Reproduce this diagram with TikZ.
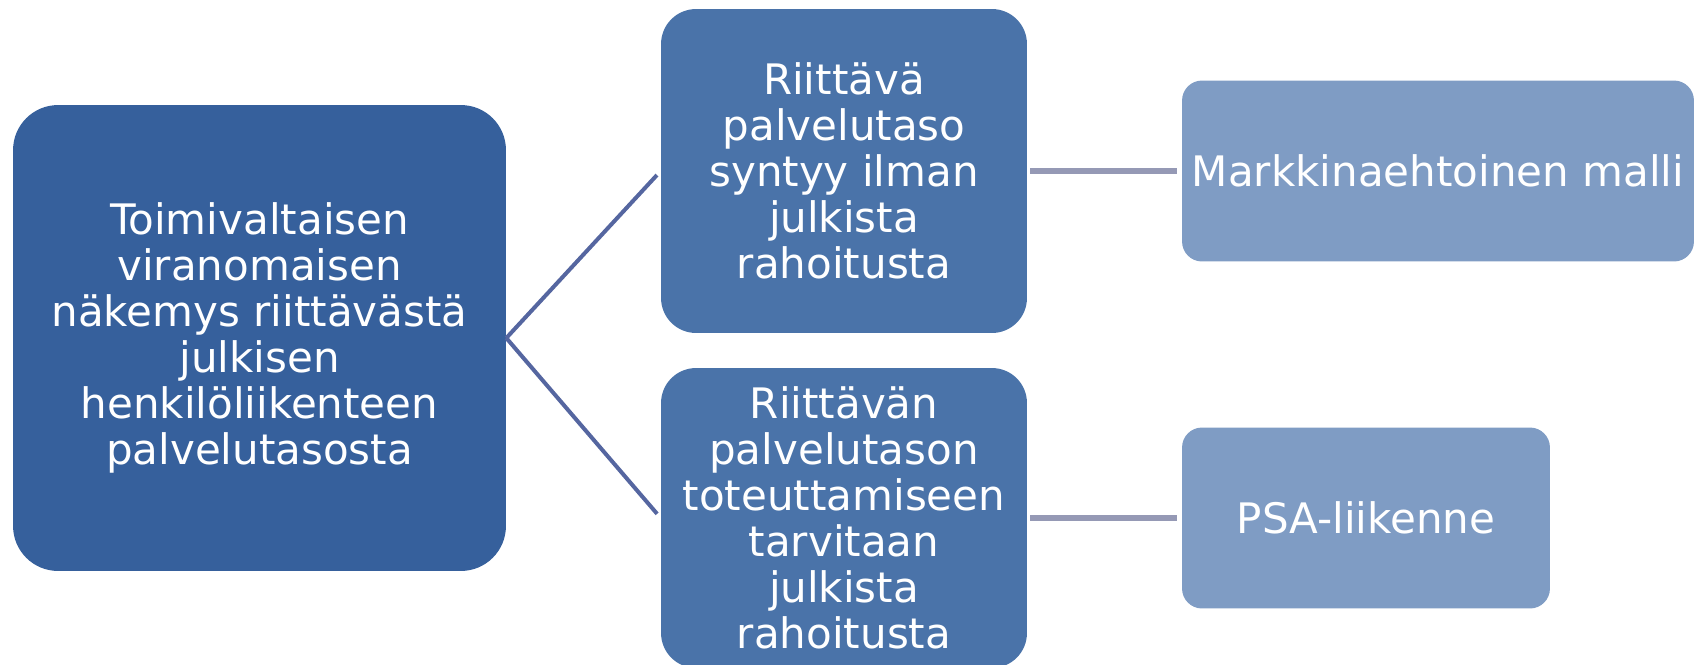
\documentclass[tikz,border=0pt]{standalone}
\usepackage{fontspec}
\setmainfont{DejaVu Sans}
\usetikzlibrary{calc}
\definecolor{cdark}{HTML}{36609C}
\definecolor{cmid}{HTML}{4A73A9}
\definecolor{clight}{HTML}{7F9CC4}
\definecolor{cline}{HTML}{5566A0}
\definecolor{cline2}{HTML}{9599B5}
\tikzset{
  box/.style={rectangle, text=white, align=center, inner sep=0pt,
    font=\fontsize{23.9pt}{26.2pt}\selectfont},
  leftbox/.style={box, fill=cdark, rounded corners=0.9cm, minimum width=9.86cm, minimum height=9.32cm},
  midbox/.style={box, fill=cmid, rounded corners=0.7cm, minimum width=7.32cm},
  rightbox/.style={box, fill=clight, rounded corners=0.4cm, minimum height=3.62cm},
  conn/.style={draw=cline, line width=0.08cm, shorten >=0.11cm},
  conn2/.style={draw=cline2, line width=0.12cm, shorten <=0.06cm, shorten >=0.1cm}
}
\begin{document}
\begin{tikzpicture}[x=0.02cm, y=-0.02cm]
\useasboundingbox (0,0) rectangle (1695,664);
\node[leftbox] (L) at (259.5,338) {Toimivaltaisen\\viranomaisen\\näkemys riittävästä\\julkisen\\henkilöliikenteen\\palvelutasosta};
\node[midbox, minimum height=6.48cm] (M1) at (844,171) {Riittävä\\palvelutaso\\syntyy ilman\\julkista\\rahoitusta};
\node[midbox, minimum height=6.0cm] (M2) at (844,518) {Riittävän\\palvelutason\\toteuttamiseen\\tarvitaan\\julkista\\rahoitusta};
\node[rightbox, minimum width=10.24cm] (R1) at (1438,171) {Markkinaehtoinen malli};
\node[rightbox, minimum width=7.36cm] (R2) at (1366,518) {PSA-liikenne};
\draw[conn] (L.east) -- (M1.west);
\draw[conn] (L.east) -- (M2.west);
\draw[conn2] (M1.east) -- (R1.west);
\draw[conn2] (M2.east) -- (R2.west);
\end{tikzpicture}
\end{document}
